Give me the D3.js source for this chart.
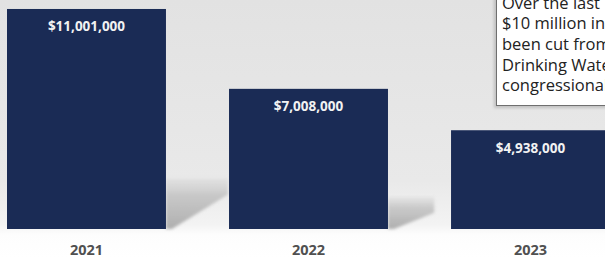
<!DOCTYPE html>
<html>
<head>
<meta charset="utf-8">
<script src="https://cdn.jsdelivr.net/npm/d3@7"></script>
<style>
  html, body { margin: 0; padding: 0; background: #fff; }
  svg { display: block; }
</style>
</head>
<body>
<svg id="canvas" width="605" height="258"></svg>
<script>
let years = ["2021", "2022", "2023"];
let funding = [11001000, 7008000, 4938000];
let noteLines = ["Over the last", "$10 million in", "been cut from", "Drinking Water", "congressional"];

let width = 605;
let height = 258;
let baseY = 229;

let canvas = d3.select("#canvas");
let defs = canvas.append("defs");

let bg = defs.append("linearGradient").attr("id", "bg").attr("x1", 0).attr("y1", 0).attr("x2", 0).attr("y2", 1);
bg.append("stop").attr("offset", "0%").attr("stop-color", "#e2e2e2");
bg.append("stop").attr("offset", "70%").attr("stop-color", "#e9e9e9");
bg.append("stop").attr("offset", "87%").attr("stop-color", "#f3f3f3");
bg.append("stop").attr("offset", "91%").attr("stop-color", "#fdfdfd");
bg.append("stop").attr("offset", "100%").attr("stop-color", "#ffffff");

let sh = defs.append("linearGradient").attr("id", "shade").attr("x1", 0).attr("y1", 0).attr("x2", 0).attr("y2", 1);
sh.append("stop").attr("offset", "0%").attr("stop-color", "#a0a0a0").attr("stop-opacity", 0.1);
sh.append("stop").attr("offset", "35%").attr("stop-color", "#999").attr("stop-opacity", 0.45);
sh.append("stop").attr("offset", "100%").attr("stop-color", "#909090").attr("stop-opacity", 0.7);

defs.append("filter").attr("id", "soft")
    .append("feGaussianBlur").attr("stdDeviation", 1.5);

canvas.append("rect").attr("width", width).attr("height", height).attr("fill", "url(#bg)");

let x = d3.scaleBand()
    .domain(years)
    .range([7, 610])
    .paddingInner(0.284)
    .paddingOuter(0);

let y = d3.scaleLinear()
    .domain([0, 11000000])
    .range([baseY, 9]);

let fmt = d3.format("$,.0f");

// perspective shadows behind the bars
canvas.selectAll("path.shadow")
    .data(years.map((yr, i) => ({ yr: yr, v: funding[i] })))
    .enter()
    .append("path")
    .attr("class", "shadow")
    .attr("fill", "url(#shade)")
    .attr("filter", "url(#soft)")
    .attr("d", (d) => {
        let h = baseY - y(d.v);
        let x0 = x(d.yr) + x.bandwidth();
        let dx = Math.min(h * 0.33, 62);
        let dy = h * 0.23;
        return "M" + x0 + "," + (baseY - dy) +
               "L" + (x0 + dx) + "," + (baseY - dy) +
               "L" + (x0 + dx) + "," + (baseY - dy + 16) +
               "L" + (x0 + 6) + "," + baseY +
               "L" + x0 + "," + baseY + "Z";
    });

canvas.selectAll("rect.bar")
    .data(funding)
    .enter()
    .append("rect")
    .attr("class", "bar")
    .attr("x", (d, i) => x(years[i]))
    .attr("y", (d) => y(d))
    .attr("width", x.bandwidth())
    .attr("height", (d) => baseY - y(d))
    .attr("fill", "#1a2b55");

canvas.selectAll("text.value")
    .data(funding)
    .enter()
    .append("text")
    .attr("class", "value")
    .attr("x", (d, i) => x(years[i]) + x.bandwidth() / 2)
    .attr("y", (d) => y(d) + 22.5)
    .attr("text-anchor", "middle")
    .attr("fill", "#f2f2f2")
    .style("font-family", "'Open Sans', sans-serif")
    .style("font-weight", "700")
    .style("font-size", "13.5px")
    .text((d) => fmt(d));

canvas.selectAll("text.year")
    .data(years)
    .enter()
    .append("text")
    .attr("class", "year")
    .attr("x", (d) => x(d) + x.bandwidth() / 2)
    .attr("y", 255)
    .attr("text-anchor", "middle")
    .attr("fill", "#505050")
    .style("font-family", "'Open Sans', sans-serif")
    .style("font-weight", "700")
    .style("font-size", "14.5px")
    .text((d) => d);

// note box, cut off by the top and right edges
let note = canvas.append("g");
note.append("rect")
    .attr("x", 494).attr("y", -10).attr("width", 130).attr("height", 118)
    .attr("fill", "#9a9a9a").attr("opacity", 0.5).attr("filter", "url(#soft)");
note.append("rect")
    .attr("x", 496.5).attr("y", -10).attr("width", 130).attr("height", 115.5)
    .attr("fill", "#ffffff").attr("stroke", "#6f6f6f").attr("stroke-width", 1);
note.selectAll("text")
    .data(noteLines)
    .enter()
    .append("text")
    .attr("x", 502)
    .attr("y", (d, i) => 8.5 + i * 20.7)
    .attr("fill", "#222")
    .style("font-family", "'Open Sans', sans-serif")
    .style("font-size", "16.5px")
    .text((d) => d);
</script>
</body>
</html>
